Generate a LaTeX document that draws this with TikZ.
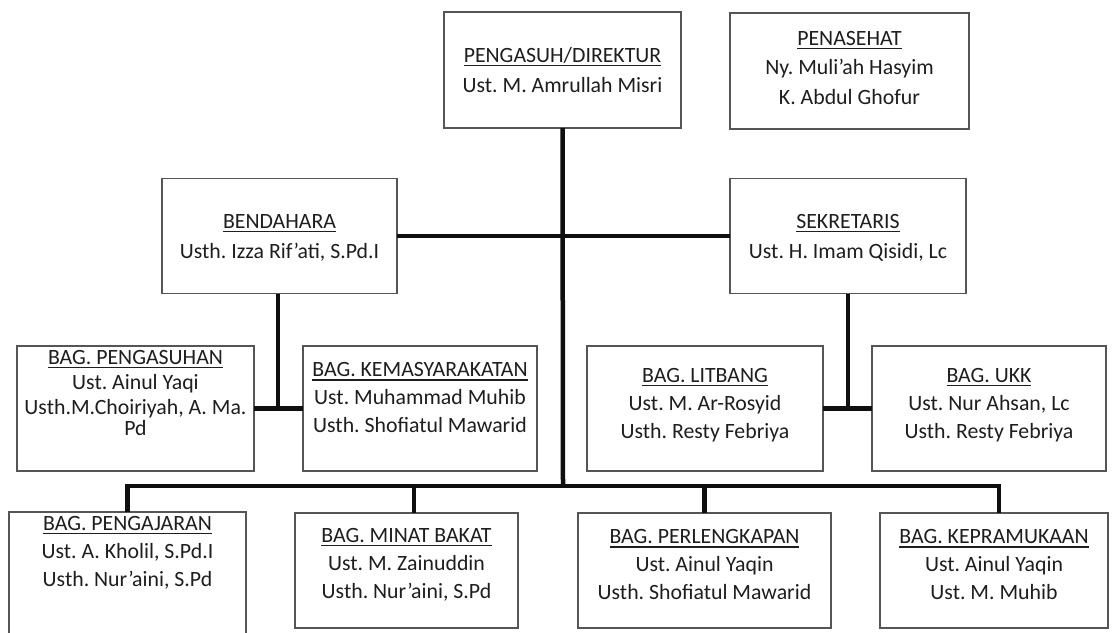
\documentclass[tikz,border=0pt]{standalone}
\usepackage{fontspec}
\setmainfont{Carlito}
\frenchspacing
\definecolor{boxc}{RGB}{85,85,85}
\definecolor{textc}{RGB}{30,30,30}
\definecolor{connc}{RGB}{15,15,15}
\newcommand\ttl[1]{\setbox0\hbox{#1}\rlap{\rule[-3.8pt]{\wd0}{1.3pt}}\box0}
\begin{document}
\begin{tikzpicture}[x=1pt,y=-1pt,
  orgbox/.style={draw=boxc,line width=1.2pt,fill=white,rectangle,inner sep=0pt,outer sep=0pt},
  txt/.style={align=center,text=textc,inner sep=0pt,font=\fontsize{21.8}{28}\selectfont},
  conn/.style={draw=connc,line width=4.5pt}]
\useasboundingbox (0,0) rectangle (1115,632);
\fill[white] (0,0) rectangle (1115,632);
\clip (0,0) rectangle (1115,632);
% boxes
\node[orgbox,minimum width=237,minimum height=116] (pg) at (562.5,70) {};
\node[orgbox,minimum width=239,minimum height=116] (pn) at (849.5,71) {};
\node[orgbox,minimum width=235,minimum height=115] (bd) at (279.5,236) {};
\node[orgbox,minimum width=236,minimum height=115] (sk) at (848,236) {};
\node[orgbox,minimum width=237,minimum height=125] (ph) at (135.5,408.5) {};
\node[orgbox,minimum width=234,minimum height=125] (km) at (420,408.5) {};
\node[orgbox,minimum width=236,minimum height=125] (lt) at (705,408.5) {};
\node[orgbox,minimum width=234,minimum height=125] (uk) at (989,408.5) {};
\node[orgbox,minimum width=237,minimum height=140] (pj) at (127.5,582) {};
\node[orgbox,minimum width=223,minimum height=115] (mb) at (406.5,570.5) {};
\node[orgbox,minimum width=253,minimum height=115] (pl) at (704.5,570.5) {};
\node[orgbox,minimum width=228,minimum height=115] (kp) at (994,570.5) {};
% texts
\node[txt,font=\fontsize{21.8}{30}\selectfont] (pgt) at (562.5,70) {\ttl{PENGASUH/DIREKTUR}\\Ust. M. Amrullah Misri};
\node[txt,font=\fontsize{21.8}{29.5}\selectfont] (pnt) at (849.5,68) {\ttl{PENASEHAT}\\Ny. Muli'ah Hasyim\\K. Abdul Ghofur};
\node[txt,font=\fontsize{21.8}{30}\selectfont] (bdt) at (279.5,238) {\ttl{BENDAHARA}\\Usth. Izza Rif'ati, S.Pd.I};
\node[txt,font=\fontsize{21.8}{30}\selectfont] (skt) at (848,238) {\ttl{SEKRETARIS}\\Ust. H. Imam Qisidi, Lc};
\node[txt,font=\fontsize{21.8}{25}\selectfont] (pht) at (135.5,393) {\ttl{BAG. PENGASUHAN}\\Ust. Ainul Yaqi\\Usth.M.Choiriyah, A. Ma.\\[-4pt]Pd};
\node[txt] (kmt) at (420,398) {\ttl{BAG. KEMASYARAKATAN}\\Ust. Muhammad Muhib\\Usth. Shofiatul Mawarid};
\node[txt] (ltt) at (705,405) {\ttl{BAG. LITBANG}\\Ust. M. Ar-Rosyid\\Usth. Resty Febriya};
\node[txt] (ukt) at (989,405) {\ttl{BAG. UKK}\\Ust. Nur Ahsan, Lc\\Usth. Resty Febriya};
\node[txt] (pjt) at (127.5,553) {\ttl{BAG. PENGAJARAN}\\Ust. A. Kholil, S.Pd.I\\Usth. Nur’aini, S.Pd};
\node[txt] (mbt) at (406.5,565) {\ttl{BAG. MINAT BAKAT}\\Ust. M. Zainuddin\\Usth. Nur’aini, S.Pd};
\node[txt] (plt) at (704.5,565) {\ttl{BAG. PERLENGKAPAN}\\Ust. Ainul Yaqin\\Usth. Shofiatul Mawarid};
\node[txt] (kpt) at (994,565) {\ttl{BAG. KEPRAMUKAAN}\\Ust. Ainul Yaqin\\Ust. M. Muhib};
% connectors
\coordinate (bus) at (563,486);
\draw[conn] (pg.south) -- (bus);
\draw[conn] (bd.east) -- (sk.west);
\draw[conn] ([xshift=-1.5pt]bd.south) -- ([xshift=-1.5pt]bd.south |- ph.east);
\draw[conn] (ph.east) -- (km.west);
\draw[conn] (sk.south) -- (sk.south |- lt.east);
\draw[conn] (lt.east) -- (uk.west);
\draw[conn] (pj.north) -- (pj.north |- bus) -- ([xshift=5pt]kp.north |- bus) -- ([xshift=5pt]kp.north);
\draw[conn] ([xshift=7.5pt]mb.north) -- ([xshift=7.5pt]mb.north |- bus);
\draw[conn] (pl.north) -- (pl.north |- bus);
\end{tikzpicture}
\end{document}
